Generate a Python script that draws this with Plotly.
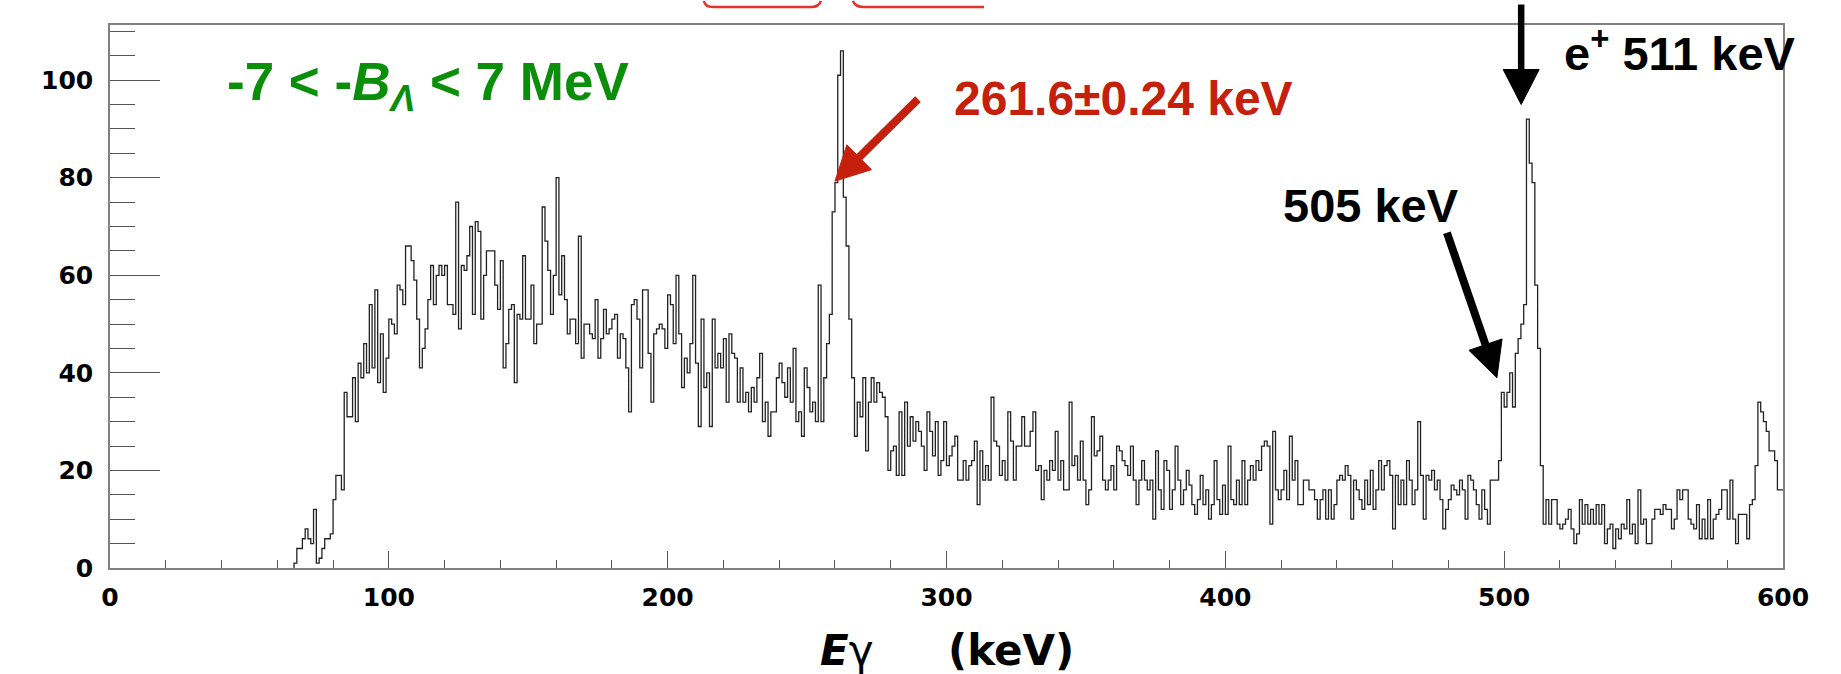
import math
import plotly.graph_objects as go

# ---------------- data (1 keV bins, counts) ----------------
first_bin_keV = 66          # lower edge of first non-empty bin
bin_width_keV = 1
x_range = [0, 600]
y_range = [0, 111.3]

counts_066_146 = [1, 4, 4, 6, 8, 6, 5, 12, 1, 2,
                  4, 6, 6, 7, 14, 19, 19, 16, 36, 31,
                  31, 39, 30, 42, 39, 46, 40, 54, 41, 57,
                  38, 48, 36, 43, 51, 50, 48, 58, 57, 54,
                  66, 66, 63, 59, 51, 41, 45, 49, 55, 62,
                  54, 60, 62, 60, 62, 54, 54, 52, 75, 49,
                  62, 61, 64, 70, 52, 71, 69, 51, 60, 65,
                  65, 65, 58, 53, 63, 41, 46, 53, 54, 38,
                  52]
counts_147_236 = [51, 64, 51, 51, 58, 46, 50, 50, 74, 67,
                  61, 52, 60, 80, 56, 64, 55, 48, 51, 51,
                  46, 68, 43, 50, 50, 48, 47, 55, 43, 47,
                  53, 48, 49, 51, 52, 43, 48, 47, 41, 32,
                  54, 55, 51, 41, 57, 57, 44, 34, 48, 49,
                  50, 49, 45, 56, 54, 46, 60, 48, 37, 43,
                  40, 46, 60, 42, 29, 51, 37, 40, 29, 51,
                  41, 44, 41, 47, 34, 48, 44, 43, 34, 41,
                  34, 36, 32, 37, 34, 39, 44, 30, 34, 27]
counts_237_326 = [32, 32, 39, 42, 38, 35, 41, 34, 45, 30,
                  32, 27, 41, 37, 32, 34, 30, 58, 30, 39,
                  46, 52, 73, 79, 101, 106, 76, 66, 51, 39,
                  27, 34, 31, 39, 24, 34, 39, 34, 38, 36,
                  35, 31, 20, 24, 25, 19, 32, 19, 34, 25,
                  31, 26, 30, 28, 25, 20, 32, 28, 23, 30,
                  19, 22, 30, 21, 23, 25, 27, 18, 18, 22,
                  18, 21, 22, 26, 13, 24, 18, 21, 18, 35,
                  26, 25, 19, 22, 18, 32, 26, 18, 25, 25]
counts_327_415 = [31, 25, 25, 28, 32, 20, 21, 14, 20, 18,
                  22, 20, 28, 18, 22, 16, 16, 34, 21, 23,
                  18, 26, 18, 13, 16, 31, 23, 24, 27, 18,
                  16, 18, 21, 16, 25, 24, 22, 21, 19, 25,
                  18, 13, 18, 22, 18, 16, 18, 10, 24, 16,
                  12, 22, 20, 12, 16, 25, 18, 13, 16, 20,
                  17, 13, 11, 14, 19, 13, 16, 10, 13, 22,
                  14, 11, 17, 11, 25, 14, 13, 18, 13, 22,
                  13, 18, 21, 18, 22, 20, 25, 26, 25]
counts_416_513 = [9, 28, 16, 14, 16, 20, 14, 27, 18, 22,
                  13, 13, 18, 18, 16, 16, 14, 10, 14, 16,
                  10, 16, 10, 13, 18, 19, 18, 21, 19, 10,
                  18, 16, 14, 12, 18, 13, 20, 12, 16, 22,
                  16, 21, 22, 19, 8, 19, 13, 18, 13, 22,
                  18, 13, 16, 30, 19, 10, 19, 18, 20, 16,
                  18, 14, 8, 12, 14, 17, 16, 15, 18, 16,
                  10, 19, 18, 16, 13, 10, 16, 12, 9, 18,
                  18, 18, 22, 36, 33, 36, 40, 33, 44, 47,
                  50, 54, 92, 83, 79, 58, 45, 21]
counts_514_599 = [9, 14, 9, 14, 14, 9, 8, 9, 10, 12,
                  8, 5, 7, 14, 9, 13, 9, 12, 9, 13,
                  9, 13, 5, 8, 9, 4, 8, 6, 9, 8,
                  14, 7, 9, 5, 16, 9, 10, 5, 5, 10,
                  12, 12, 11, 13, 12, 12, 8, 10, 16, 14,
                  16, 16, 10, 9, 8, 13, 6, 10, 6, 14,
                  6, 10, 11, 12, 16, 16, 10, 18, 10, 5,
                  11, 11, 11, 6, 13, 14, 21, 34, 32, 30,
                  28, 24, 24, 22, 16, 16]

x_tick_vals = [0, 100, 200, 300, 400, 500, 600]
y_tick_vals = [0, 20, 40, 60, 80, 100]

# arrow tips (keV, counts) and tail offsets (pixels)
arrow_261_tip = (260.0, 79.3)
arrow_505_tip = (497.4, 39.0)
arrow_511_tip = (506.1, 95.0)

counts = (counts_066_146 + counts_147_236 + counts_237_326 +
          counts_327_415 + counts_416_513 + counts_514_599)
edges = [first_bin_keV + i * bin_width_keV for i in range(len(counts))]
last_edge = first_bin_keV + len(counts) * bin_width_keV

xs = [first_bin_keV] + edges + [last_edge]
ys = [0] + counts + [counts[-1]]

# ---------------- layout geometry (pixels) ----------------
W, H = 1841, 674
L, R, T, B = 110, 1783, 25, 568


def px(X):
    return (X - L) / (R - L)


def py(Y):
    return (B - Y) / (B - T)


def data_to_pix(e, v):
    X = L + (e - x_range[0]) / (x_range[1] - x_range[0]) * (R - L)
    Y = B - (v - y_range[0]) / (y_range[1] - y_range[0]) * (B - T)
    return X, Y


fig = go.Figure()
fig.add_trace(go.Scatter(
    x=xs, y=ys, mode="lines", line=dict(shape="hv", color="#222222", width=1.3),
    hoverinfo="skip", showlegend=False))

tick_font = dict(family="DejaVu Sans", size=25, color="#000000", weight="bold")
axis_grey = "#808080"

fig.update_layout(
    width=W, height=H, autosize=False,
    margin=dict(l=L, r=W - R, t=T, b=H - B, pad=0),
    paper_bgcolor="white", plot_bgcolor="white",
    showlegend=False,
    xaxis=dict(range=x_range, tickmode="array", tickvals=x_tick_vals,
               ticks="inside", ticklen=17, tickwidth=1.2, tickcolor="#555555",
               minor=dict(dtick=20, tick0=0, ticks="inside", ticklen=8, tickwidth=1.2,
                          tickcolor="#555555", showgrid=False),
               showline=True, linecolor=axis_grey, linewidth=1.6, mirror=True,
               showgrid=False, zeroline=False, tickfont=tick_font,
               ticklabelstandoff=6),
    yaxis=dict(range=y_range, tickmode="array", tickvals=y_tick_vals,
               ticks="inside", ticklen=50, tickwidth=1.2, tickcolor="#555555",
               minor=dict(dtick=5, tick0=0, ticks="inside", ticklen=25, tickwidth=1.2,
                          tickcolor="#555555", showgrid=False),
               showline=True, linecolor=axis_grey, linewidth=1.6, mirror=True,
               showgrid=False, zeroline=False, tickfont=tick_font,
               ticklabelstandoff=10),
)

ann_font = "Liberation Sans, Arial, sans-serif"
annotations = [
    dict(x=px(225), y=py(85), xref="paper", yref="paper", xanchor="left", yanchor="middle",
         text="<b>-7 &lt; -<i>B</i><sub><i>Λ</i></sub> &lt; 7 MeV</b>",
         font=dict(family=ann_font, size=53, color="#0b8f0b"), showarrow=False),
    dict(x=px(952), y=py(98), xref="paper", yref="paper", xanchor="left", yanchor="middle",
         text="<b>261.6±0.24 keV</b>",
         font=dict(family=ann_font, size=48, color="#c4200c"), showarrow=False),
    dict(x=px(1562), y=py(50), xref="paper", yref="paper", xanchor="left", yanchor="middle",
         text="<b>e<sup>+</sup> 511 keV</b>",
         font=dict(family=ann_font, size=47, color="#000000"), showarrow=False),
    dict(x=px(1281), y=py(205), xref="paper", yref="paper", xanchor="left", yanchor="middle",
         text="<b>505 keV</b>",
         font=dict(family=ann_font, size=47, color="#000000"), showarrow=False),
    dict(x=px(818), y=py(650), xref="paper", yref="paper", xanchor="left", yanchor="middle",
         text="<b><i>E</i></b>γ",
         font=dict(family="DejaVu Sans", size=42, color="#000000"), showarrow=False),
    dict(x=px(946), y=py(650), xref="paper", yref="paper", xanchor="left", yanchor="middle",
         text="<b>(keV)</b>",
         font=dict(family="DejaVu Sans", size=42, color="#000000"), showarrow=False),
]
fig.update_layout(annotations=annotations)


def add_arrow(tip_data, tail_offset, width, head_len, head_half, color):
    tx, ty = data_to_pix(*tip_data)
    sx, sy = tx + tail_offset[0], ty + tail_offset[1]
    dx, dy = tx - sx, ty - sy
    n = math.hypot(dx, dy)
    ux, uy = dx / n, dy / n
    bx, by = tx - ux * head_len, ty - uy * head_len
    nx, ny = -uy, ux
    fig.add_shape(type="line", xref="paper", yref="paper",
                  x0=px(sx), y0=py(sy), x1=px(bx + ux * 3), y1=py(by + uy * 3),
                  line=dict(color=color, width=width), layer="above")
    p1 = (tx, ty)
    p2 = (bx + nx * head_half, by + ny * head_half)
    p3 = (bx - nx * head_half, by - ny * head_half)
    path = (f"M {px(p1[0])},{py(p1[1])} L {px(p2[0])},{py(p2[1])} "
            f"L {px(p3[0])},{py(p3[1])} Z")
    fig.add_shape(type="path", path=path, xref="paper", yref="paper",
                  fillcolor=color, line=dict(color=color, width=1), layer="above")


add_arrow(arrow_261_tip, (83, -82), 8, 34, 17.5, "#c4200c")
add_arrow(arrow_505_tip, (-50, -145), 8, 35, 17.5, "#000000")
add_arrow(arrow_511_tip, (0, -100), 6.5, 35, 18, "#000000")

# red brace fragment at the very top (cut-off decoration)
brace_parts = [
    f"M {px(704)},{py(1)} Q {px(705)},{py(7)} {px(713)},{py(7)} L {px(811)},{py(7)} "
    f"Q {px(819)},{py(7)} {px(821)},{py(1)}",
    f"M {px(853)},{py(1)} Q {px(855)},{py(7)} {px(864)},{py(7)} L {px(984)},{py(7)}",
]
for part in brace_parts:
    fig.add_shape(type="path", path=part, xref="paper", yref="paper",
                  fillcolor="rgba(0,0,0,0)", line=dict(color="#e0352a", width=2.5),
                  layer="above")

fig.write_html("out.html")
